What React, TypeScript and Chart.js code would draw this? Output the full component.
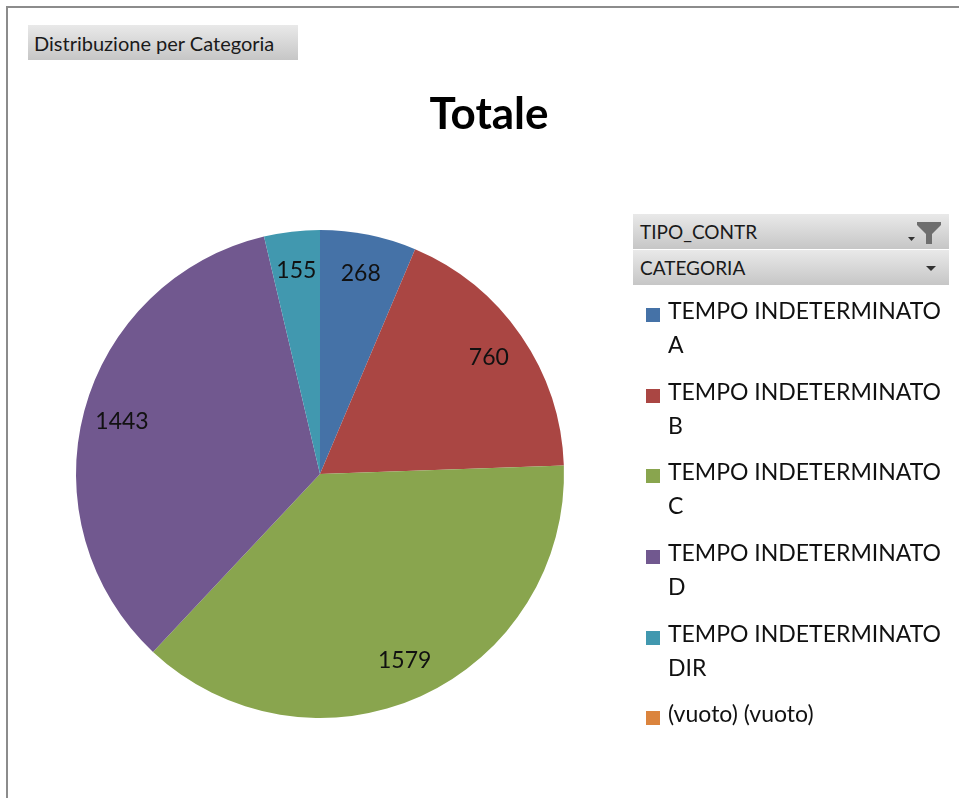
import React, { useEffect, useRef } from "react";
import { Chart, registerables } from "chart.js";

Chart.register(...registerables);

const categories = [
  "TEMPO INDETERMINATO A",
  "TEMPO INDETERMINATO B",
  "TEMPO INDETERMINATO C",
  "TEMPO INDETERMINATO D",
  "TEMPO INDETERMINATO DIR",
  "(vuoto) (vuoto)",
];
const values = [268, 760, 1579, 1443, 155, 0];
const colors = ["#4572A7", "#AA4643", "#89A54E", "#71588F", "#4198AF", "#DB843D"];
const chartTitle = "Totale";
const fieldButtonLabel = "Distribuzione per Categoria";
const filterFields = ["TIPO_CONTR", "CATEGORIA"];

const FONT = "Lato, 'Open Sans', sans-serif";

const labelsPlugin = {
  id: "insideEndLabels",
  afterDatasetsDraw(chart: any) {
    const ctx = chart.ctx;
    const meta = chart.getDatasetMeta(0);
    ctx.save();
    ctx.font = `23px ${FONT}`;
    ctx.fillStyle = "#111111";
    ctx.textAlign = "center";
    ctx.textBaseline = "middle";
    meta.data.forEach((arc: any, i: number) => {
      const v = values[i];
      if (!v) return;
      const p = arc.getProps(["x", "y", "startAngle", "endAngle", "outerRadius"], true);
      const mid = (p.startAngle + p.endAngle) / 2;
      const r = p.outerRadius * 0.84;
      ctx.fillText(String(v), p.x + Math.cos(mid) * r, p.y + Math.sin(mid) * r);
    });
    ctx.restore();
  },
};

const grayButton: React.CSSProperties = {
  position: "absolute",
  boxSizing: "border-box",
  background: "linear-gradient(#e9e9e9, #d4d4d4 60%, #c6c6c6)",
  fontFamily: FONT,
  color: "#1a1a1a",
  display: "flex",
  alignItems: "center",
  whiteSpace: "nowrap",
};

export default function App() {
  const canvasRef = useRef<HTMLCanvasElement>(null);

  useEffect(() => {
    if (!canvasRef.current) return;
    const chart = new Chart(canvasRef.current, {
      type: "pie",
      data: {
        labels: categories,
        datasets: [
          {
            data: values,
            backgroundColor: colors,
            borderWidth: 0,
          },
        ],
      },
      options: {
        responsive: false,
        animation: false,
        devicePixelRatio: 1,
        layout: { padding: { left: 76, right: 395, top: 230, bottom: 80 } },
        plugins: {
          legend: { display: false },
          tooltip: { enabled: false },
          title: { display: false },
        },
      },
      plugins: [labelsPlugin],
    });
    return () => chart.destroy();
  }, []);

  return (
    <div
      style={{
        position: "fixed",
        left: 0,
        top: 0,
        width: 959,
        height: 798,
        overflow: "hidden",
        background: "#ffffff",
      }}
    >
      <div
        style={{
          position: "absolute",
          left: 6,
          top: 6,
          width: 1000,
          height: 900,
          borderLeft: "2px solid #8c8c8c",
          borderTop: "2px solid #8c8c8c",
        }}
      />
      <canvas
        ref={canvasRef}
        width={959}
        height={798}
        style={{ position: "absolute", left: 0, top: 0 }}
      />
      <div
        style={{
          ...grayButton,
          left: 28,
          top: 25,
          width: 270,
          height: 35,
          paddingLeft: 6,
          fontSize: 20,
        }}
      >
        {fieldButtonLabel}
      </div>
      <div
        style={{
          position: "absolute",
          left: 0,
          top: 84,
          width: 978,
          textAlign: "center",
          fontFamily: FONT,
          fontWeight: 700,
          fontSize: 44,
          lineHeight: "56px",
          color: "#000",
        }}
      >
        {chartTitle}
      </div>
      {filterFields.map((f, i) => (
        <div
          key={f}
          style={{
            ...grayButton,
            left: 633,
            top: 214 + i * 36,
            width: 316,
            height: 35,
            paddingLeft: 7,
            fontSize: 19,
          }}
        >
          {f}
          {i === 0 ? (
            <svg
              width="40"
              height="26"
              viewBox="0 0 40 26"
              style={{ position: "absolute", right: 6, top: 8 }}
            >
              <polygon points="5,15 12,15 8.5,19" fill="#333" />
              <polygon points="14,0 38,0 38,3 29,12 29,22 23,22 23,12 14,3" fill="#6e6e6e" />
            </svg>
          ) : (
            <svg
              width="12"
              height="8"
              viewBox="0 0 12 8"
              style={{ position: "absolute", right: 12, top: 15 }}
            >
              <polygon points="1,1 11,1 6,6" fill="#333" />
            </svg>
          )}
        </div>
      ))}
      <div
        style={{
          position: "absolute",
          left: 646,
          top: 293,
          width: 300,
          display: "flex",
          flexDirection: "column",
          gap: 12.7,
          fontFamily: FONT,
          fontSize: 23,
          lineHeight: "34px",
          color: "#111",
        }}
      >
        {categories.map((c, i) => (
          <div key={c} style={{ position: "relative", paddingLeft: 22, width: 290 }}>
            <span
              style={{
                position: "absolute",
                left: 0,
                top: 15,
                width: 14,
                height: 14,
                background: colors[i],
              }}
            />
            {c}
          </div>
        ))}
      </div>
    </div>
  );
}
